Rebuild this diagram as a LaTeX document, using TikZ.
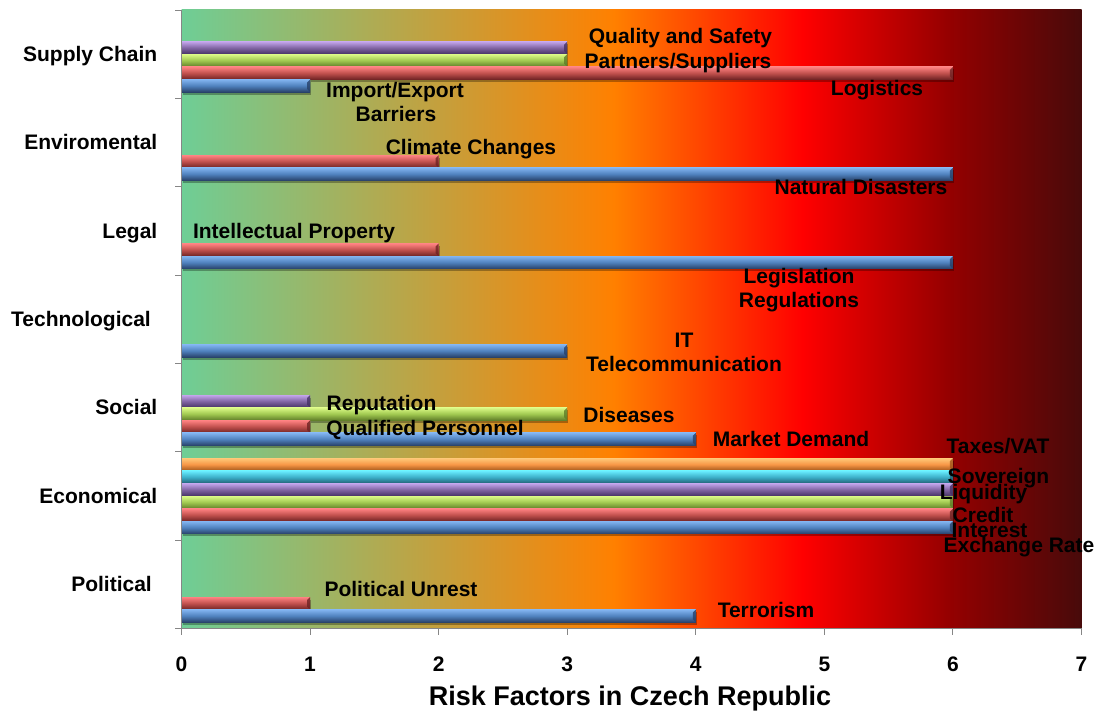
\documentclass[tikz,border=0pt]{standalone}
\usepackage{fontspec}
\setmainfont{Liberation Sans}
\usetikzlibrary{shadows}
\definecolor{bgA}{RGB}{110,206,150}
\definecolor{bgB}{RGB}{255,128,0}
\definecolor{bgC}{RGB}{255,0,0}
\definecolor{bgD}{RGB}{150,0,0}
\definecolor{bgE}{RGB}{72,10,10}
\definecolor{axisgray}{RGB}{134,134,134}
\definecolor{blueT}{RGB}{130,180,240}\definecolor{blueM}{RGB}{79,129,189}\definecolor{blueB}{RGB}{40,65,105}
\definecolor{redT}{RGB}{255,130,130}\definecolor{redM}{RGB}{192,80,77}\definecolor{redB}{RGB}{110,35,35}
\definecolor{grnT}{RGB}{220,250,135}\definecolor{grnM}{RGB}{160,200,80}\definecolor{grnB}{RGB}{95,125,40}
\definecolor{purT}{RGB}{195,165,235}\definecolor{purM}{RGB}{128,100,162}\definecolor{purB}{RGB}{70,50,100}
\definecolor{cyaT}{RGB}{105,238,255}\definecolor{cyaM}{RGB}{60,175,200}\definecolor{cyaB}{RGB}{35,95,115}
\definecolor{orgT}{RGB}{255,200,120}\definecolor{orgM}{RGB}{247,150,70}\definecolor{orgB}{RGB}{160,85,25}
\newcommand\riskbar[4]{%
  \path[bar,top color=#4T,bottom color=#4B,middle color=#4M]
    (0,{#1+(#2-0.5)/7}) rectangle (#3,{#1+(#2+0.5)/7});
  \fill[#4B,opacity=0.8] (#3,{#1+(#2+0.5)/7}) -- (#3,{#1+(#2-0.5)/7})
    -- ([xshift=-3pt,yshift=3pt]#3,{#1+(#2-0.5)/7}) -- ([xshift=-3pt,yshift=-3pt]#3,{#1+(#2+0.5)/7}) -- cycle;
}
\begin{document}
\begin{tikzpicture}[x=1pt,y=1pt,
  bar/.style={drop shadow={shadow xshift=1pt,shadow yshift=-2.5pt,opacity=0.3,fill=black}},
  lbl/.style={font=\fontsize{21}{24}\selectfont\bfseries,inner sep=0pt,anchor=base},
  catlbl/.style={lbl,anchor=base east},
  axisline/.style={draw=axisgray,line width=0.9pt}]
\useasboundingbox (0,0) rectangle (1102,713);
% plot background
\fill[left color=bgA,right color=bgB] (181.5,84.4) rectangle (614,703);
\fill[left color=bgB,right color=bgC] (613.5,84.4) rectangle (803,703);
\fill[left color=bgC,right color=bgD] (802.5,84.4) rectangle (947,703);
\fill[left color=bgD,right color=bgE] (946.5,84.4) rectangle (1081.5,703);
% bars
\begin{scope}[shift={(181.5,84.4)},x=128.571pt,y=88.371pt]
  % Political
  \riskbar{0}{2}{1}{red}
  \riskbar{0}{1}{4}{blue}
  % Economical
  \riskbar{1}{6}{6}{org}
  \riskbar{1}{5}{6}{cya}
  \riskbar{1}{4}{6}{pur}
  \riskbar{1}{3}{6}{grn}
  \riskbar{1}{2}{6}{red}
  \riskbar{1}{1}{6}{blue}
  % Social
  \riskbar{2}{4}{1}{pur}
  \riskbar{2}{3}{3}{grn}
  \riskbar{2}{2}{1}{red}
  \riskbar{2}{1}{4}{blue}
  % Technological
  \riskbar{3}{1}{3}{blue}
  % Legal
  \riskbar{4}{2}{2}{red}
  \riskbar{4}{1}{6}{blue}
  % Enviromental
  \riskbar{5}{2}{2}{red}
  \riskbar{5}{1}{6}{blue}
  % Supply Chain
  \riskbar{6}{4}{3}{pur}
  \riskbar{6}{3}{3}{grn}
  \riskbar{6}{2}{6}{red}
  \riskbar{6}{1}{1}{blue}
\end{scope}
% axes
\draw[axisline] (181.5,703) -- (181.5,84.4) -- (1081.5,84.4);
\foreach \i in {0,...,7} {
  \draw[axisline] (175,{84.4+\i*88.371}) -- (181.5,{84.4+\i*88.371});
  \draw[axisline] ({181.5+\i*128.571},84.4) -- ({181.5+\i*128.571},78);
  \node[lbl] (tick\i) at ({181.5+\i*128.571},41.2) {\i};
}
% category labels
\node[catlbl] (cSupply) at (157.5,651.7) {Supply Chain};
\node[catlbl] (cEnv) at (157.5,563.2) {Enviromental};
\node[catlbl] (cLegal) at (157.5,474.7) {Legal};
\node[catlbl] (cTech) at (151,386.7) {Technological};
\node[catlbl] (cSocial) at (157.5,298.2) {Social};
\node[catlbl] (cEcon) at (157.5,209.7) {Economical};
\node[catlbl] (cPol) at (152,121.2) {Political};
% bar labels
\node[lbl] (lQuality) at (680.5,669) {Quality and Safety};
\node[lbl] (lPartners) at (678,644.7) {Partners/Suppliers};
\node[lbl] (lLogistics) at (877,617.7) {Logistics};
\node[lbl] (lImport) at (395,615.7) {Import/Export};
\node[lbl] (lBarriers) at (396,591.7) {Barriers};
\node[lbl] (lClimate) at (471,558.7) {Climate Changes};
\node[lbl] (lNatural) at (861,518.2) {Natural Disasters};
\node[lbl] (lIntell) at (294,474.2) {Intellectual Property};
\node[lbl] (lLegis) at (799,429.7) {Legislation};
\node[lbl] (lRegul) at (799,405.7) {Regulations};
\node[lbl] (lIT) at (684,365.7) {IT};
\node[lbl] (lTelecom) at (684,341.7) {Telecommunication};
\node[lbl] (lReput) at (381.5,302.7) {Reputation};
\node[lbl] (lDiseases) at (629,290.7) {Diseases};
\node[lbl] (lQualified) at (425,277.7) {Qualified Personnel};
\node[lbl] (lMarket) at (791,266.7) {Market Demand};
\node[lbl] (lTaxes) at (998,259.7) {Taxes/VAT};
\node[lbl] (lSovereign) at (998.5,229.2) {Sovereign};
\node[lbl] (lLiquidity) at (983.5,213.2) {Liquidity};
\node[lbl] (lCredit) at (983,190.7) {Credit};
\node[lbl] (lInterest) at (989.5,175.7) {Interest};
\node[lbl] (lExchange) at (1019,160.2) {Exchange Rate};
\node[lbl] (lUnrest) at (401,117) {Political Unrest};
\node[lbl] (lTerror) at (766,95.7) {Terrorism};
% axis title
\node[lbl,font=\fontsize{27}{32}\selectfont\bfseries] (title) at (630,8) {Risk Factors in Czech Republic};
\end{tikzpicture}
\end{document}
